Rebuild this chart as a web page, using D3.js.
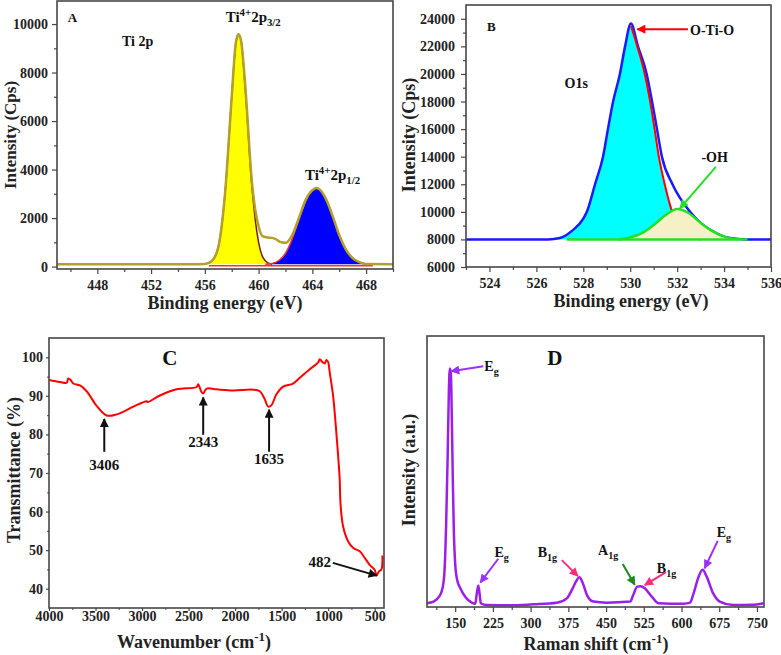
<!DOCTYPE html>
<html lang="en">
<head>
<meta charset="UTF-8">
<title>TiO2 XPS, FTIR and Raman</title>
<script src="https://d3js.org/d3.v7.min.js"></script>
<style>
  body { margin: 0; background: #fff; }
  svg { font-family: "Liberation Serif", "Times New Roman", serif; font-weight: bold; }
  .frame { fill: none; stroke: #474747; stroke-width: 1.6px; }
  .axis path { display: none; }
  .axis line { stroke: #474747; stroke-width: 1.2px; }
  .axis text { font-family: "Liberation Serif", serif; font-weight: bold; font-size: 14px; fill: #222; }
  .title { fill: #222; }
  .note { fill: #111; }
</style>
</head>
<body>
<script>
// ---- A: Ti 2p XPS (binding energy eV, counts) ----
const tiEnvelope = [[445,100],[455,100],[456,110],[456.5,220],[457,800],[457.5,3000],[458,7000],[458.3,9200],[458.5,9580],[458.7,9300],[459,7500],[459.5,3500],[460,1650],[460.3,1250],[460.7,1200],[461.2,1150],[461.7,1000],[462,980],[462.5,1300],[463,2000],[463.5,2750],[464,3150],[464.3,3240],[464.6,3150],[465,2800],[465.5,2100],[466,1300],[466.5,700],[467,350],[467.5,180],[468,110],[470,100]];
const ti2p32 = [[456,100],[456.5,220],[457,800],[457.5,3000],[458,7000],[458.3,9200],[458.5,9580],[458.7,9300],[459,7400],[459.5,3300],[460,1000],[460.3,400],[460.7,150],[461,100]];
const ti2p12 = [[460.5,100],[461,130],[461.5,250],[462,550],[462.5,1150],[463,1950],[463.5,2700],[464,3150],[464.3,3240],[464.6,3150],[465,2800],[465.5,2100],[466,1300],[466.5,700],[467,350],[467.5,180],[468,110],[469,100]];
const aTicksX = [448,452,456,460,464,468];
const aMinorX = [446,450,454,458,462,466,470];
const aTicksY = [0,2000,4000,6000,8000,10000];
const aMinorY = [1000,3000,5000,7000,9000];

// ---- B: O 1s XPS ----
const oEnvelope = [[523,8000],[526.5,8000],[527,8100],[527.5,8600],[528,9500],[528.15,10000],[528.5,12000],[528.84,14000],[529.05,16000],[529.27,18000],[529.56,20000],[529.78,22000],[530.03,23650],[530.33,22000],[530.7,20000],[530.93,18000],[531.14,16000],[531.35,14000],[531.8,12000],[532.55,10000],[533,9200],[533.5,8600],[534,8200],[534.5,8050],[535,8000],[536,8000]];
const oLattice = [[526.5,8000],[527,8100],[527.5,8600],[528,9500],[528.15,10000],[528.5,12000],[528.84,14000],[529.05,16000],[529.27,18000],[529.56,20000],[529.78,22000],[530.03,23500],[530.3,22000],[530.62,20000],[530.85,18000],[531.04,16000],[531.22,14000],[531.47,12000],[531.75,10200],[532,9200],[532.3,8500],[532.6,8150],[533,8000]];
const oHydroxyl = [[529.5,8000],[530,8150],[530.5,8450],[531,9050],[531.5,9750],[532,10200],[532.5,9900],[533,9200],[533.5,8600],[534,8200],[534.5,8030],[535,8000]];
const bTicksX = [524,526,528,530,532,534,536];
const bMinorX = [523,525,527,529,531,533,535];
const bTicksY = [6000,8000,10000,12000,14000,16000,18000,20000,22000,24000];
const bMinorY = [7000,9000,11000,13000,15000,17000,19000,21000,23000];

// ---- C: FTIR ----
const irWavenumber = [4000,3882,3810,3793,3767,3739,3667,3595,3488,3380,3273,3094,2951,2940,2808,2629,2414,2397,2361,2343,2307,2200,2021,1806,1735,1681,1645,1609,1556,1484,1377,1305,1198,1109,1090,1063,1037,1019,1001,983,947,912,876,868,840,786,733,661,607,554,500,482,454,428,417];
const irTransmittance = [94.1,93.6,93.4,94.5,94.1,93.2,92.7,91.2,87.4,84.9,85.2,87.2,88.6,88.4,90.1,91.7,92.3,93.0,91.0,90.6,91.9,91.7,91.4,91.6,91.2,89.1,87.2,87.6,90.4,92.4,93.2,94.7,96.9,98.6,99.5,98.8,98.4,99.3,98.8,96.0,90.0,80.4,68.3,62.3,56.2,52.3,50.6,49.7,48.0,46.2,44.9,43.4,44.5,45.0,48.6];
const cTicksX = [4000,3500,3000,2500,2000,1500,1000,500];
const cMinorX = [3750,3250,2750,2250,1750,1250,750];
const cTicksY = [40,50,60,70,80,90,100];
const cMinorY = [45,55,65,75,85,95];

// ---- D: Raman ----
const ramanShift = [94,107,118,125,129,132,135,137.5,139.5,141.5,143.5,145.5,147.5,150,154,160,170,183,190,193,196,198.5,201,213,260,305,352,372,382,392,397,404,412,425,451,498,504,512,519,527,541,554,604,617,624,634,642,650,663,676,703,740,763];
const ramanIntensity = [1.4,2.0,3.8,7,14,30,55,80,88,86,68,45,27,16,10,7,3.8,1.6,1.2,5,7.9,5,1.4,0.7,0.6,1.0,1.6,3.2,6.3,10,11,8.7,4.4,2.0,1.6,2.0,4.4,7.5,7.7,6.9,3.8,1.4,1.2,1.6,5,11.2,13.7,11.2,5,2,0.7,0.8,1.4];
const dTicksX = [150,225,300,375,450,525,600,675,750];
const dMinorX = [112.5,187.5,262.5,337.5,412.5,487.5,562.5,637.5,712.5];

const svg = d3.select("body").append("svg").attr("width", 781).attr("height", 655);
const defs = svg.append("defs");
function arrowHead(id, color) {
  defs.append("marker").attr("id", id)
    .attr("viewBox", "0 0 10 10").attr("refX", 9).attr("refY", 5)
    .attr("markerWidth", 11).attr("markerHeight", 9)
    .attr("markerUnits", "userSpaceOnUse").attr("orient", "auto")
    .append("path").attr("d", "M0,0L10,5L0,10z").attr("fill", color);
}
arrowHead("ah-black", "#111");
arrowHead("ah-red", "#ff0000");
arrowHead("ah-green", "#22e022");
arrowHead("ah-purple", "#9b30ff");
arrowHead("ah-pink", "#ff2a78");
arrowHead("ah-dgreen", "#1e8a1e");

function rich(t, parts, size) {
  let cur = 0;
  parts.forEach(([s, lvl]) => {
    const off = lvl === 1 ? -size * 0.4 : lvl === -1 ? size * 0.3 : 0;
    t.append("tspan").attr("dy", off - cur).attr("font-size", lvl ? size * 0.72 : size).text(s);
    cur = off;
  });
  return t;
}

function axes(x, y, o) {
  const [x0, x1] = x.range(), [y0, y1] = y.range();
  svg.append("rect").attr("class", "frame")
    .attr("x", x0).attr("y", y1).attr("width", x1 - x0).attr("height", y0 - y1);
  svg.append("g").attr("class", "axis").attr("transform", `translate(0,${y0})`)
    .call(d3.axisBottom(x).tickValues(o.xTicks).tickSize(o.tick).tickPadding(o.padX).tickFormat(d3.format("d")));
  svg.append("g").attr("class", "axis").attr("transform", `translate(0,${y0})`)
    .call(d3.axisBottom(x).tickValues(o.xMinor).tickSize(o.tick * 0.6).tickFormat(""));
  if (o.yTicks) {
    svg.append("g").attr("class", "axis").attr("transform", `translate(${x0},0)`)
      .call(d3.axisLeft(y).tickValues(o.yTicks).tickSize(o.tick).tickPadding(o.padY).tickFormat(d3.format("d")));
    svg.append("g").attr("class", "axis").attr("transform", `translate(${x0},0)`)
      .call(d3.axisLeft(y).tickValues(o.yMinor).tickSize(o.tick * 0.6).tickFormat(""));
  }
}

function yTitle(xPos, yMid, parts, size) {
  const t = svg.append("text").attr("class", "title").attr("text-anchor", "middle")
    .attr("transform", `translate(${xPos},${yMid}) rotate(-90)`);
  rich(t, parts, size || 18);
}
function xTitle(xMid, yPos, parts) {
  const t = svg.append("text").attr("class", "title").attr("text-anchor", "middle")
    .attr("x", xMid).attr("y", yPos);
  rich(t, parts, 18);
}
function note(x, y, parts, size, anchor, color) {
  const t = svg.append("text").attr("class", "note").attr("x", x).attr("y", y)
    .attr("text-anchor", anchor || "start").attr("font-size", size).style("fill", color || "#111");
  rich(t, parts, size);
}
function arrow(x1, y1, x2, y2, color, id, w) {
  svg.append("line").attr("x1", x1).attr("y1", y1).attr("x2", x2).attr("y2", y2)
    .attr("stroke", color).attr("stroke-width", w || 2).attr("marker-end", `url(#${id})`);
}

// ================= Panel A =================
{
  const x = d3.scaleLinear().domain([445, 470]).range([57, 393]);
  const y = d3.scaleLinear().domain([-100, 10950]).range([269, 1]);
  const area = d3.area().x(d => x(d[0])).y0(y(100)).y1(d => y(d[1])).curve(d3.curveMonotoneX);
  const line = d3.line().x(d => x(d[0])).y(d => y(d[1])).curve(d3.curveMonotoneX);
  svg.append("path").datum(ti2p32).attr("d", area).attr("fill", "#ffff00");
  svg.append("path").datum(ti2p12).attr("d", area).attr("fill", "#0000ff");
  svg.append("line").attr("x1", x(456.3)).attr("x2", x(468.5)).attr("y1", y(100) + 1.5).attr("y2", y(100) + 1.5)
    .attr("stroke", "#ff3030").attr("stroke-width", 1.5);
  svg.append("path").datum(ti2p32).attr("d", line).attr("fill", "none").attr("stroke", "#7a1e08").attr("stroke-width", 1.5);
  svg.append("path").datum(ti2p12).attr("d", line).attr("fill", "none").attr("stroke", "#ff3030").attr("stroke-width", 1.5);
  svg.append("path").datum(tiEnvelope).attr("d", line).attr("fill", "none").attr("stroke", "#b3a02a").attr("stroke-width", 2.5);
  axes(x, y, { xTicks: aTicksX, xMinor: aMinorX, yTicks: aTicksY, yMinor: aMinorY, tick: 5, padX: 6, padY: 4 });
  yTitle(15.5, 135, [["Intensity (Cps)", 0]], 17);
  xTitle(225, 309, [["Binding energy (eV)", 0]]);
  note(x(445.8), y(10085), [["A", 0]], 13);
  note(x(451), y(9095), [["Ti 2p", 0]], 14, "middle");
  note(x(459.6), y(10085), [["Ti", 0], ["4+", 1], ["2p", 0], ["3/2", -1]], 15, "middle");
  note(x(465.5), y(3570), [["Ti", 0], ["4+", 1], ["2p", 0], ["1/2", -1]], 15, "middle");
}

// ================= Panel B =================
{
  const x = d3.scaleLinear().domain([523, 536]).range([466, 771]);
  const y = d3.scaleLinear().domain([6000, 25000]).range([267, 5]);
  const area = d3.area().x(d => x(d[0])).y0(y(8000)).y1(d => y(d[1])).curve(d3.curveMonotoneX);
  const line = d3.line().x(d => x(d[0])).y(d => y(d[1])).curve(d3.curveMonotoneX);
  svg.append("path").datum(oLattice).attr("d", area).attr("fill", "#00ffff");
  svg.append("path").datum(oEnvelope).attr("d", line).attr("fill", "none").attr("stroke", "#1a1aff").attr("stroke-width", 2.5);
  svg.append("path").datum(oLattice.filter(d => d[0] >= 529.9)).attr("d", line).attr("fill", "none").attr("stroke", "#ff0000").attr("stroke-width", 2);
  svg.append("path").datum(oHydroxyl).attr("d", area).attr("fill", "#f5f0c6");
  svg.append("path").datum(oHydroxyl).attr("d", line).attr("fill", "none").attr("stroke", "#22e022").attr("stroke-width", 2.5);
  svg.append("line").attr("x1", x(527.3)).attr("x2", x(534.6)).attr("y1", y(8000)).attr("y2", y(8000))
    .attr("stroke", "#22e022").attr("stroke-width", 2.5);
  axes(x, y, { xTicks: bTicksX, xMinor: bMinorX, yTicks: bTicksY, yMinor: bMinorY, tick: 5, padX: 6, padY: 6 });
  yTitle(415, 135, [["Intensity (Cps)", 0]]);
  xTitle(631, 307, [["Binding energy (eV)", 0]]);
  note(x(523.9), y(23126), [["B", 0]], 13);
  note(x(527.7), y(18990), [["O1s", 0]], 14, "middle");
  note(x(532.55), y(22836), [["O-Ti-O", 0]], 14);
  arrow(x(532.46), y(23250), x(530.3), y(23250), "#ff0000", "ah-red", 2);
  note(x(533.6), y(13620), [["-OH", 0]], 14, "middle");
  arrow(x(533.65), y(13257), x(532.12), y(10250), "#22e022", "ah-green", 2);
}

// ================= Panel C =================
{
  const x = d3.scaleLinear().domain([4000, 400]).range([49, 384]);
  const y = d3.scaleLinear().domain([35, 105]).range([608, 338]);
  const pts = irWavenumber.map((w, i) => [w, irTransmittance[i]]);
  const line = d3.line().x(d => x(d[0])).y(d => y(d[1])).curve(d3.curveCatmullRom.alpha(0.5));
  svg.append("path").datum(pts).attr("d", line).attr("fill", "none").attr("stroke", "#ff0000").attr("stroke-width", 2);
  axes(x, y, { xTicks: cTicksX, xMinor: cMinorX, yTicks: cTicksY, yMinor: cMinorY, tick: 3, padX: 0, padY: 3 });
  yTitle(20, 470, [["Transmittance (%)", 0]]);
  xTitle(194, 648, [["Wavenumber (cm", 0], ["-1", 1], [")", 0]]);
  note(x(2701), y(97.9), [["C", 0]], 21, "middle");
  arrow(x(3406), y(75.5), x(3406), y(84), "#111", "ah-black", 2);
  note(x(3406), y(70.8), [["3406", 0]], 15, "middle");
  arrow(x(2343), y(79.9), x(2343), y(89.6), "#111", "ah-black", 2);
  note(x(2343), y(76.8), [["2343", 0]], 15, "middle");
  arrow(x(1635), y(75.5), x(1635), y(86.4), "#111", "ah-black", 2);
  note(x(1635), y(72.4), [["1635", 0]], 15, "middle");
  note(x(1090), y(45.6), [["482", 0]], 15, "middle");
  arrow(x(950), y(46.7), x(478), y(43.4), "#111", "ah-black", 2);
}

// ================= Panel D =================
{
  const x = d3.scaleLinear().domain([94, 764]).range([427, 764]);
  const y = d3.scaleLinear().domain([0, 100]).range([607, 336]);
  const pts = ramanShift.map((s, i) => [s, ramanIntensity[i]]);
  const line = d3.line().x(d => x(d[0])).y(d => y(d[1])).curve(d3.curveMonotoneX);
  svg.append("path").datum(pts).attr("d", line).attr("fill", "none").attr("stroke", "#9b1fe8").attr("stroke-width", 2.5);
  axes(x, y, { xTicks: dTicksX, xMinor: dMinorX, tick: 5, padX: 6 });
  yTitle(415, 470, [["Intensity (a.u.)", 0]]);
  xTitle(596, 650, [["Raman shift (cm", 0], ["-1", 1], [")", 0]]);
  note(x(348), y(89.3), [["D", 0]], 21, "middle");
  note(x(208), y(87.2), [["E", 0], ["g", -1]], 14);
  arrow(x(206), y(88.8), x(142), y(87), "#9b30ff", "ah-purple", 2);
  note(x(228), y(18.5), [["E", 0], ["g", -1]], 14);
  arrow(x(235.7), y(17.8), x(200), y(9.0), "#9b30ff", "ah-purple", 2);
  note(x(314), y(18.5), [["B", 0], ["1g", -1]], 14);
  arrow(x(362), y(17.3), x(394), y(11.4), "#ff2a78", "ah-pink", 2);
  note(x(434), y(19.2), [["A", 0], ["1g", -1]], 14);
  arrow(x(483), y(15.9), x(507), y(8.2), "#1e8a1e", "ah-dgreen", 2);
  note(x(551), y(12.5), [["B", 0], ["1g", -1]], 14);
  arrow(x(569), y(12.9), x(527), y(8.1), "#ff2a78", "ah-pink", 2);
  note(x(670), y(25.8), [["E", 0], ["g", -1]], 14);
  arrow(x(672), y(24.4), x(646), y(14.3), "#9b30ff", "ah-purple", 2);
}
</script>
</body>
</html>
